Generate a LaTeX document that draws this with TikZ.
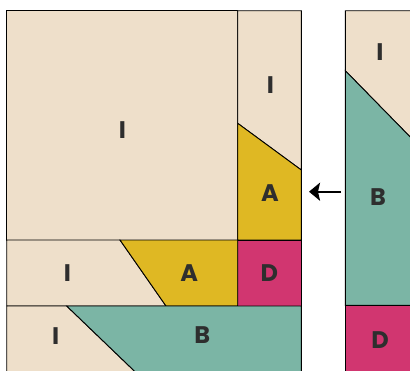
\documentclass[tikz,border=0pt]{standalone}
\usepackage{fontspec}
\newfontfamily\piecefont{Poppins}
\usetikzlibrary{positioning, arrows.meta, calc}
\definecolor{bgbeige}{HTML}{EEDFCA}
\definecolor{pyellow}{HTML}{DFB823}
\definecolor{pmagenta}{HTML}{D13670}
\definecolor{pteal}{HTML}{7BB5A5}
\definecolor{plabel}{HTML}{2E2E2E}
\tikzset{
	piece/.style={draw=black, line width=0.9pt, line join=miter},
	lbl/.style={inner sep=0pt, text=plabel, font=\piecefont\bfseries\fontsize{24}{24}\selectfont}
}

\begin{document}
\begin{tikzpicture}[x=1pt, y=-1pt]
	\clip (0,0) rectangle (410,370);
	\fill[white] (0,0) rectangle (410,370);
	% left block
	\draw[piece, fill=bgbeige] (6.7,10.7) rectangle (237.7,240);
	\draw[piece, fill=bgbeige] (237.7,10.7) -- (301.3,10.7) -- (301.3,170) -- (237.7,123.3) -- cycle;
	\draw[piece, fill=pyellow] (237.7,123.3) -- (301.3,170) -- (301.3,240) -- (237.7,240) -- cycle;
	\draw[piece, fill=pmagenta] (237.7,240) rectangle (301.3,306);
	\draw[piece, fill=bgbeige] (6.7,240) -- (120,240) -- (166,306) -- (6.7,306) -- cycle;
	\draw[piece, fill=pyellow] (120,240) -- (237.7,240) -- (237.7,306) -- (166,306) -- cycle;
	\draw[piece, fill=bgbeige] (6.7,306) -- (66.7,306) -- (143.7,380) -- (6.7,380) -- cycle;
	\draw[piece, fill=pteal] (66.7,306) -- (301.3,306) -- (301.3,380) -- (143.7,380) -- cycle;
	% right strip
	\draw[piece, fill=bgbeige] (345.3,10.7) -- (420,10.7) -- (420,147) -- (345.3,70.7) -- cycle;
	\draw[piece, fill=pteal] (345.3,70.7) -- (420,147) -- (420,305.3) -- (345.3,305.3) -- cycle;
	\draw[piece, fill=pmagenta] (345.3,305.3) rectangle (420,380);
	% labels
	\node[lbl] (bigI) at (122.3,130) {I};
	\node[lbl] (colI) at (270.3,85) {I};
	\node[lbl] (colA) at (270,193.3) {A};
	\node[lbl] (midI) at (67.3,273.3) {I};
	\node[lbl] (midA) at (189.3,273.3) {A};
	\node[lbl] (midD) at (269.3,273.3) {D};
	\node[lbl] (botI) at (55.7,336) {I};
	\node[lbl] (botB) at (202.3,335) {B};
	\node[lbl] (stripI) at (380,51.7) {I};
	\node[lbl] (stripB) at (378,196.7) {B};
	\node[lbl] (stripD) at (380,340) {D};
	% arrow
	\coordinate (arrowS) at (341,191.7);
	\coordinate (arrowE) at (309,191.7);
	\draw[line width=2.2pt, -{Stealth[length=11pt, width=18pt, inset=2pt]}] (arrowS) -- (arrowE);
\end{tikzpicture}
\end{document}
